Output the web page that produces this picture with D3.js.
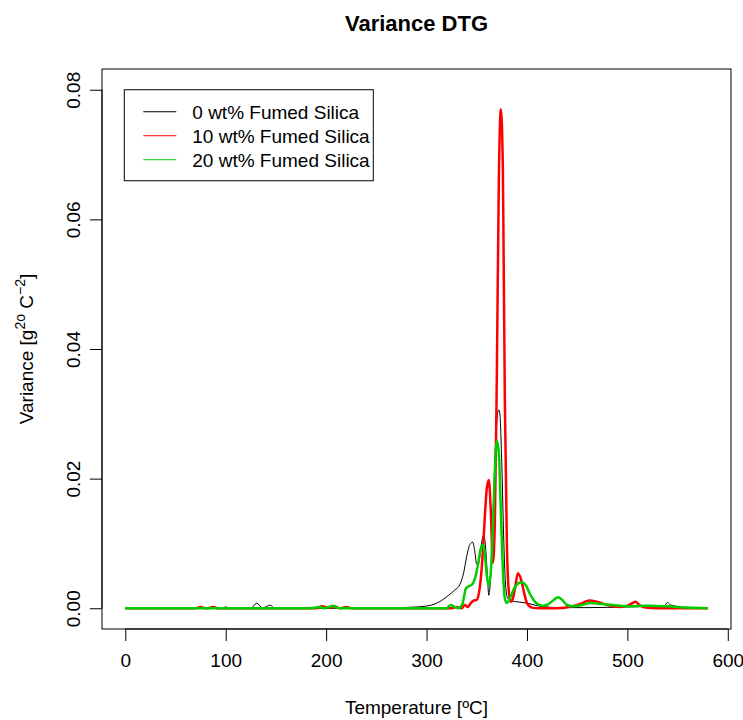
<!DOCTYPE html>
<html>
<head>
<meta charset="utf-8">
<script src="https://cdn.jsdelivr.net/npm/d3@7"></script>
<style>
  body { margin: 0; background: #fff; }
  text { font-family: "Liberation Sans", Arial, sans-serif; fill: #000; }
</style>
</head>
<body>
<div class="svg-container"></div>
<script>
// page + plot box
var pageWidth = 743,
	pageHeight = 720,
	box = { left: 102, right: 731, top: 69, bottom: 629 };

// axis ranges (R style, 4% padding) and ticks
var xDomain = [-23.2, 603.2],
	yDomain = [-0.0032, 0.0832];
var xTicks = [0, 100, 200, 300, 400, 500, 600],
	yTicks = [0, 0.02, 0.04, 0.06, 0.08];

// 0 wt% Fumed Silica
var tempBlack = [0, 60, 95, 100, 105, 125, 131, 136, 140, 144, 149, 170, 250, 290, 305, 315, 322, 328, 333, 337,
	340, 343, 346, 348, 350, 352, 354, 356, 357, 359, 361, 362, 363, 365, 367, 369, 371, 372, 373, 375,
	377, 379, 381, 385, 390, 395, 400, 410, 420, 430, 460, 500, 530, 536, 540, 543, 547, 551, 556, 580];
var varBlack = [0, 0, 0, 0.0002, 0, 0, 0.0008, 0.0001, 0.0002, 0.0005, 0, 0, 0, 0.0002, 0.0005, 0.0012, 0.002, 0.0028, 0.0036, 0.0055,
	0.0080, 0.0098, 0.0102, 0.0088, 0.0068, 0.0070, 0.0092, 0.0110, 0.0113, 0.0090, 0.0040, 0.0020, 0.0030, 0.009, 0.018, 0.026, 0.0303, 0.0306, 0.030, 0.022,
	0.010, 0.003, 0.0015, 0.0011, 0.0010, 0.0009, 0.0008, 0.0004, 0.0002, 0.0001, 0.0001, 0.0002, 0.0003, 0.0002, 0.0009, 0.0005, 0.0004, 0.0001, 0, 0];

// 10 wt% Fumed Silica
var tempRed = [0, 70, 75, 80, 85, 88, 92, 190, 196, 202, 208, 214, 220, 226, 300, 325, 330, 335, 338, 341,
	344, 347, 350, 352, 354, 356, 358, 360, 362, 364, 366, 368, 370, 372, 374, 376, 377, 378, 380, 382,
	384, 386, 388, 391, 394, 397, 400, 405, 412, 430, 445, 455, 462, 470, 480, 492, 500, 505, 508, 512,
	518, 530, 560, 580];
var varRed = [0, 0, 0.0002, 0, 0.0001, 0.0002, 0, 0, 0.0003, 0.0001, 0.0003, 0, 0.0002, 0, 0, 0, 0.0002, 0, 0.0005, 0.0002,
	0.0008, 0.0012, 0.0013, 0.0022, 0.0045, 0.0085, 0.014, 0.0185, 0.0198, 0.015, 0.007, 0.013, 0.036, 0.066, 0.077, 0.068, 0.050, 0.032, 0.010, 0.0025,
	0.0010, 0.0015, 0.003, 0.0054, 0.0045, 0.0025, 0.0008, 0.0001, 0, 0, 0.0003, 0.0008, 0.0012, 0.0010, 0.0005, 0.0002, 0.0004, 0.0008, 0.0010, 0.0005,
	0.0001, 0, 0, 0];

// 20 wt% Fumed Silica
var tempGreen = [0, 185, 190, 194, 198, 203, 207, 211, 216, 320, 324, 328, 332, 336, 339, 342, 345, 348, 351, 354,
	356, 358, 360, 362, 364, 366, 368, 370, 372, 374, 376, 378, 380, 383, 387, 391, 395, 399, 403, 407,
	411, 416, 421, 426, 431, 435, 440, 446, 455, 463, 472, 485, 500, 520, 540, 560, 580];
var varGreen = [0, 0, 0.0001, 0.0002, 0, 0.0002, 0.0004, 0.0001, 0, 0, 0.0005, 0.0002, 0, 0.0008, 0.003, 0.0034, 0.0036, 0.0045, 0.0065, 0.0092,
	0.0098, 0.0085, 0.005, 0.0035, 0.0055, 0.012, 0.021, 0.0258, 0.024, 0.015, 0.006, 0.0015, 0.0008, 0.0015, 0.003, 0.0038, 0.004, 0.0035, 0.0022, 0.0012,
	0.0006, 0.0004, 0.0006, 0.0012, 0.0017, 0.0013, 0.0005, 0.0003, 0.0005, 0.0008, 0.0007, 0.0005, 0.0003, 0.0004, 0.0003, 0.0001, 0];

var seriesNames = ["0 wt% Fumed Silica", "10 wt% Fumed Silica", "20 wt% Fumed Silica"];
var colorList = ["#000000", "#ff0000", "#00cd00"];
var widthList = [1, 2.5, 2.5];


function plot() {
	var svg = d3.select(".svg-container")
	.append("svg")
	.attr("width", pageWidth)
	.attr("height", pageHeight);

	svg.append("rect")
	.attr("width", pageWidth)
	.attr("height", pageHeight)
	.attr("fill", "#fff");

	var xScale = d3.scaleLinear().range([box.left, box.right]).domain(xDomain);
	var yScale = d3.scaleLinear().range([box.bottom, box.top]).domain(yDomain);

	drawAxes(svg, xScale, yScale);

	drawLine(svg, tempBlack, varBlack, xScale, yScale, colorList[0], widthList[0]);
	drawLine(svg, tempRed, varRed, xScale, yScale, colorList[1], widthList[1]);
	drawLine(svg, tempGreen, varGreen, xScale, yScale, colorList[2], widthList[2]);

	drawLegend(svg, xScale, yScale);
}


function drawAxes(svg, x, y) {
	// plot box
	svg.append("rect")
	.attr("x", box.left)
	.attr("y", box.top)
	.attr("width", box.right - box.left)
	.attr("height", box.bottom - box.top)
	.attr("fill", "none")
	.attr("stroke", "#000")
	.attr("stroke-width", 1);

	// x-axis
	var xAxis = d3.axisBottom(x).tickValues(xTicks).tickSize(12).tickPadding(13).tickFormat(d3.format("d"));
	var gx = svg.append("g")
	.attr("transform", "translate(0," + box.bottom + ")")
	.call(xAxis);
	gx.select(".domain").attr("d", "M" + x(0) + ",0H" + x(600)).attr("stroke", "#000");
	gx.selectAll("text").attr("font-size", 19).attr("dy", "0.71em")
	.style("font-family", "'Liberation Sans', Arial, sans-serif");

	// y-axis, labels rotated like R
	var yAxis = d3.axisLeft(y).tickValues(yTicks).tickSize(12).tickFormat(d3.format(".2f"));
	var gy = svg.append("g")
	.attr("transform", "translate(" + box.left + ",0)")
	.call(yAxis);
	gy.select(".domain").attr("d", "M0," + y(0) + "V" + y(0.08)).attr("stroke", "#000");
	gy.selectAll("text")
	.attr("font-size", 19)
	.attr("x", 0).attr("dy", 0)
	.attr("transform", "translate(-22,0) rotate(-90)")
	.attr("text-anchor", "middle")
	.style("font-family", "'Liberation Sans', Arial, sans-serif");

	// title
	svg.append("text")
	.attr("x", (box.left + box.right) / 2)
	.attr("y", 31)
	.attr("text-anchor", "middle")
	.attr("font-size", 22)
	.attr("font-weight", "bold")
	.text("Variance DTG");

	// x label
	svg.append("text")
	.attr("x", (box.left + box.right) / 2)
	.attr("y", 714)
	.attr("text-anchor", "middle")
	.attr("font-size", 19)
	.text("Temperature [ºC]");

	// y label with superscripts
	var yl = svg.append("text")
	.attr("transform", "translate(33," + (box.top + box.bottom) / 2 + ") rotate(-90)")
	.attr("text-anchor", "middle")
	.attr("font-size", 19);
	yl.append("tspan").text("Variance [g");
	yl.append("tspan").attr("dy", -8).attr("font-size", 14).text("2o");
	yl.append("tspan").attr("dy", 8).text(" C");
	yl.append("tspan").attr("dy", -8).attr("font-size", 14).text("\u22122");
	yl.append("tspan").attr("dy", 8).text("]");
}


function drawLine(svg, temps, vals, x, y, color, w) {
	var data = temps.map(function(t, i) { return { T: t, V: vals[i] }; });

	var line = d3.line()
	.x(function(d) { return x(d.T); })
	.y(function(d) { return y(d.V); })
	.curve(d3.curveMonotoneX);

	svg.append("path")
	.datum(data)
	.attr("fill", "none")
	.attr("stroke", color)
	.attr("stroke-width", w)
	.attr("stroke-linejoin", "round")
	.attr("d", line);
}


function drawLegend(svg, x, y) {
	// legend anchored at (0, 0.08) in data coords
	var lx = x(0) - 1, ly = y(0.08), lw = 249, lh = 91;
	var g = svg.append("g");
	g.append("rect")
	.attr("x", lx).attr("y", ly)
	.attr("width", lw).attr("height", lh)
	.attr("fill", "#fff")
	.attr("stroke", "#000");

	seriesNames.forEach(function(name, i) {
		var cy = ly + 22 + i * 24;
		g.append("line")
		.attr("x1", lx + 19).attr("x2", lx + 52)
		.attr("y1", cy).attr("y2", cy)
		.attr("stroke", colorList[i])
		.attr("stroke-width", 1);
		g.append("text")
		.attr("x", lx + 68)
		.attr("y", cy + 7)
		.attr("font-size", 19)
		.text(name);
	});
}

plot();
</script>
</body>
</html>
